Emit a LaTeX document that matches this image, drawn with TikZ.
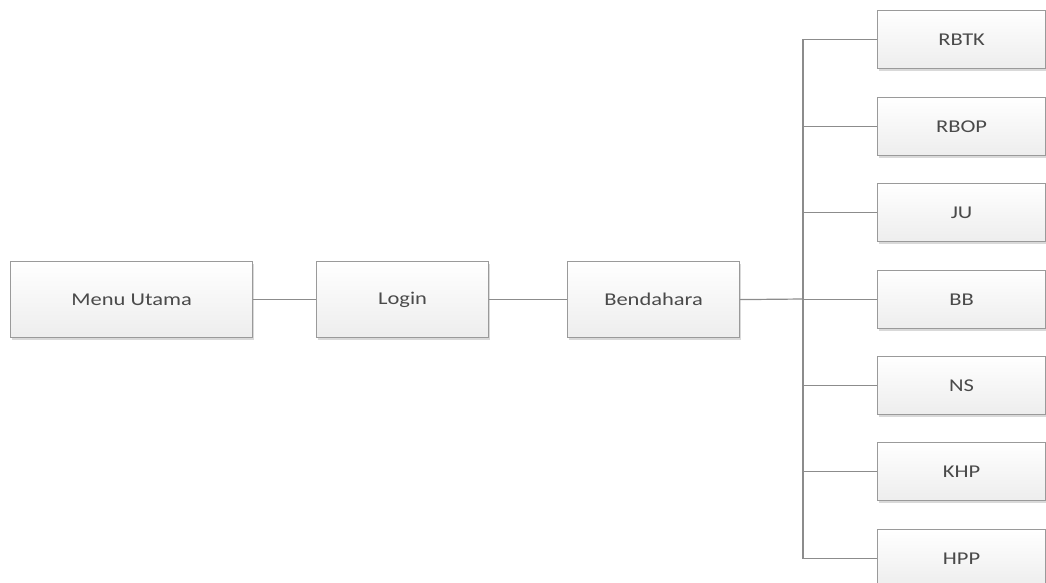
\documentclass[tikz,border=0pt]{standalone}
\usepackage{fontspec}
\setmainfont{Carlito}
\usetikzlibrary{shadows}
\definecolor{boxline}{HTML}{9A9A9A}
\definecolor{conn}{HTML}{8C8C8C}
\definecolor{txt}{HTML}{4A4A4A}
\tikzset{
  blk/.style={draw=boxline, line width=1.2pt, top color=white, bottom color=black!7,
    minimum height=#1, inner sep=0pt, anchor=north west,
    drop shadow={shadow xshift=1pt, shadow yshift=-2pt, fill=black!25, opacity=0.6},
    font=\fontsize{18}{20}\selectfont, text=txt},
  conline/.style={draw=conn, line width=1.2pt},
}
\newcommand{\wt}[1]{\scalebox{1.25}[1]{#1}}
\begin{document}
\begin{tikzpicture}[x=1pt,y=-1pt]
\useasboundingbox (0,0) rectangle (1046,583);
\clip (0,0) rectangle (1046,583);
\node[blk=76pt, minimum width=242pt] (menu) at (10,261) {\wt{Menu Utama}};
\node[blk=76pt, minimum width=172pt] (login) at (316,261) {\wt{Login}};
\node[blk=76pt, minimum width=172pt] (bend) at (567,261) {\wt{Bendahara}};
\node[blk=58pt, minimum width=168pt] (rbtk) at (877,10) {\wt{RBTK}};
\node[blk=58pt, minimum width=168pt] (rbop) at (877,97) {\wt{RBOP}};
\node[blk=58pt, minimum width=168pt] (ju) at (877,183) {\wt{JU}};
\node[blk=58pt, minimum width=168pt] (bb) at (877,270) {\wt{BB}};
\node[blk=58pt, minimum width=168pt] (ns) at (877,356) {\wt{NS}};
\node[blk=58pt, minimum width=168pt] (khp) at (877,442) {\wt{KHP}};
\node[blk=58pt, minimum width=168pt] (hpp) at (877,529) {\wt{HPP}};
\coordinate (bus) at (803,299);
\draw[conline] (menu.east) -- (login.west);
\draw[conline] (login.east) -- (bend.west);
\draw[conline] (bend.east) -- (bus);
\draw[conline] (rbtk.west) -- (rbtk.west -| bus) -- (hpp.west -| bus) -- (hpp.west);
\foreach \n in {rbop,ju,bb,ns,khp}
  \draw[conline] (\n.west) -- (\n.west -| bus);
\end{tikzpicture}
\end{document}
